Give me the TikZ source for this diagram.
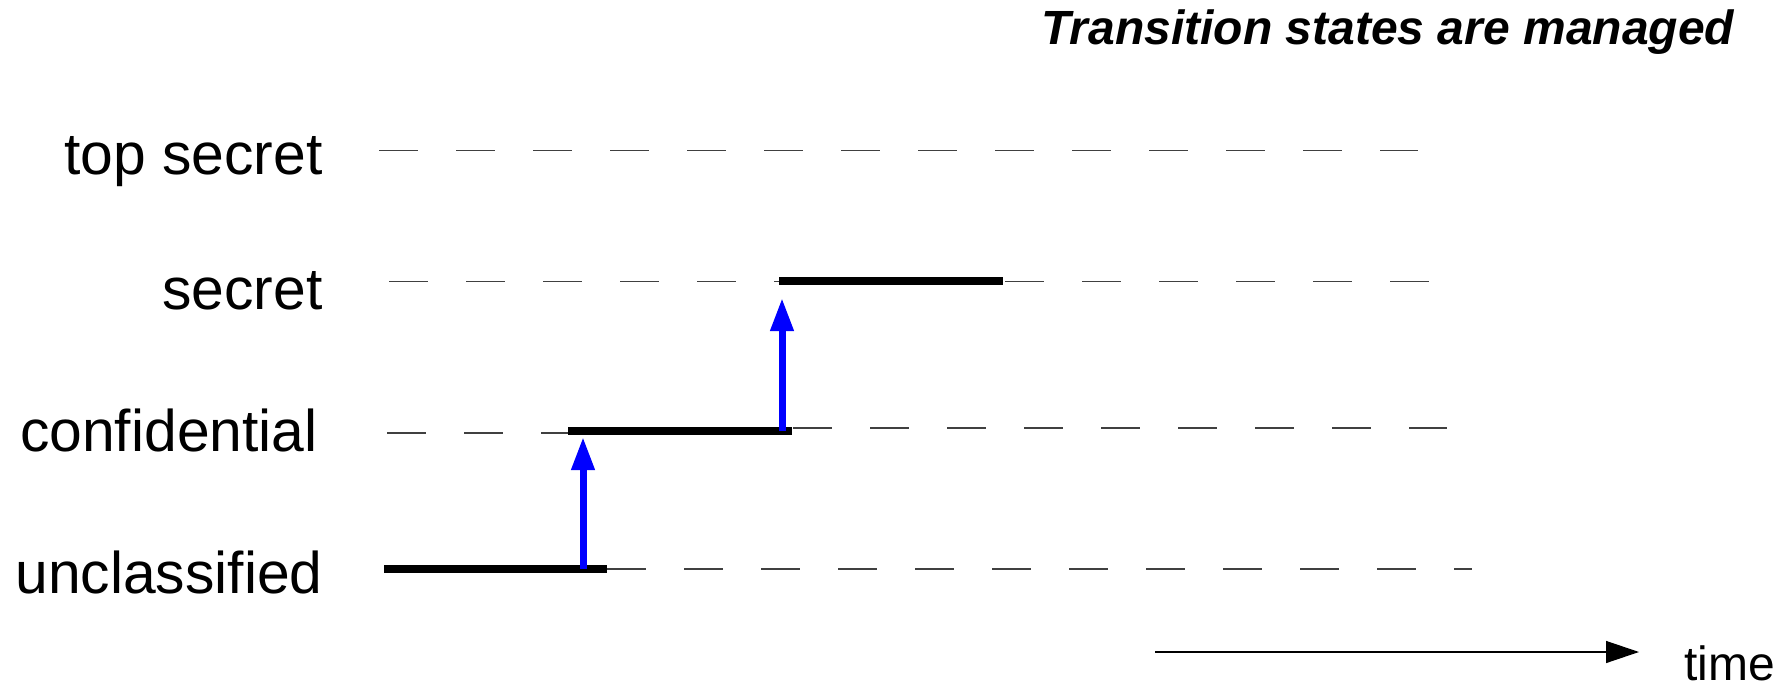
\documentclass[tikz,border=0pt]{standalone}
\usepackage{fontspec}
\setmainfont{Liberation Sans}
\usetikzlibrary{arrows.meta}
\begin{document}
\begin{tikzpicture}[x=0.5pt,y=-0.5pt,
  lbl/.style={inner sep=0pt,anchor=base east,font=\fontsize{29.4}{35}\selectfont},
  levdash/.style={draw=black!75,line width=0.75pt,dash pattern=on 19.25pt off 19.25pt},
  levbar/.style={draw=black,line width=3.8pt},
  uparrow/.style={draw=blue,line width=3.5pt,-{Triangle[length=16.5pt,width=11pt]}},
  timearrow/.style={draw=black,line width=0.65pt,-{Triangle[length=16.5pt,width=11pt]}}]
\useasboundingbox (0,0) rectangle (1788,690);
% labels
\node[lbl] (ts) at (323,175) {top secret};
\node[lbl] (se) at (323,309) {secret};
\node[lbl] (co) at (318,451) {confidential};
\node[lbl] (un) at (323,593) {unclassified};
\node[inner sep=0pt,anchor=base west,font=\fontsize{24}{29}\selectfont\bfseries\itshape] (title) at (1041,45) {Transition states are managed};
\node[inner sep=0pt,anchor=base west,font=\fontsize{24}{29}\selectfont] (time) at (1684,680) {time};
% coordinates
\coordinate (ts1) at (379,150.5);
\coordinate (ts2) at (1418,150.5);
\coordinate (se1) at (389,281.5);
\coordinate (se2) at (1430,281.5);
\coordinate (coL1) at (387,433);
\coordinate (coL2) at (568,433);
\coordinate (coR1) at (793,428);
\coordinate (coR2) at (1447,428);
\coordinate (un1) at (607,569);
\coordinate (un2) at (1472,569);
\coordinate (ub1) at (384,569);
\coordinate (ub2) at (607,569);
\coordinate (cb1) at (568,431);
\coordinate (cb2) at (792,431);
\coordinate (sb1) at (779,281);
\coordinate (sb2) at (1003,281);
\coordinate (a1s) at (583,569);
\coordinate (a1e) at (583,437);
\coordinate (a2s) at (782,431);
\coordinate (a2e) at (782,298);
\coordinate (t1) at (1155,652);
\coordinate (t2) at (1639,652);
% dashed level lines
\draw[levdash] (ts1) -- (ts2);
\draw[levdash] (se1) -- (se2);
\draw[levdash] (coL1) -- (coL2);
\draw[levdash] (coR1) -- (coR2);
\draw[levdash] (un1) -- (un2);
% bars
\draw[levbar] (ub1) -- (ub2);
\draw[levbar] (cb1) -- (cb2);
\draw[levbar] (sb1) -- (sb2);
% arrows
\draw[uparrow] (a1s) -- (a1e);
\draw[uparrow] (a2s) -- (a2e);
\draw[timearrow] (t1) -- (t2);
\end{tikzpicture}
\end{document}
